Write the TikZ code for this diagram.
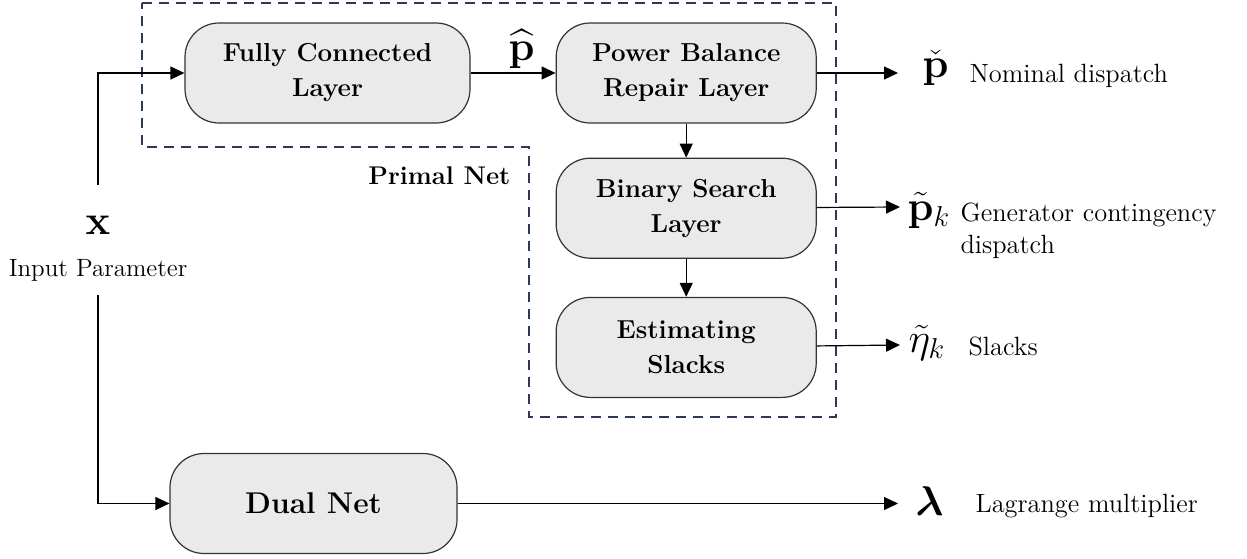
\documentclass[tikz,border=0pt]{standalone}
\usepackage{amsmath}
\usetikzlibrary{arrows.meta,positioning}
\definecolor{boxfill}{HTML}{EAEAEA}
\definecolor{netblue}{HTML}{2B3A57}

\begin{document}
\begin{tikzpicture}[->,>={Triangle[length=7pt,width=6.5pt]},semithick,
                    x=0.5pt,y=-0.5pt,node distance=17pt,
                    layer/.style={rectangle,rounded corners=17pt,draw=black!80,
                      fill=boxfill,minimum width=130pt,minimum height=50pt,
                      align=center,font=\fontsize{13}{17.5}\selectfont\bfseries},
                    sym/.style={font=\fontsize{21}{24}\selectfont,inner sep=1pt,anchor=base west},
                    desc/.style={font=\fontsize{13.2}{16}\selectfont,inner sep=0pt,
                      anchor=base west,align=left}
                    ]
  \useasboundingbox (0,0) rectangle (1247,558);
  % primal net frame
  \draw[-,netblue,line width=1pt,dash pattern=on 5pt off 3.5pt]
    (142,3) -- (836,3) -- (836,417) -- (529,417) -- (529,147) -- (142,147) -- cycle;
  \node[font=\fontsize{12.8}{15}\selectfont\bfseries,anchor=base east,inner sep=0pt] (primal) at (511,184) {Primal Net};

  \node[layer,minimum width=142.5pt] (fc) at (327.5,73) {Fully Connected\\Layer};
  \node[layer] (pbr) [right=42.5pt of fc] {Power Balance\\Repair Layer};
  \node[layer] (bs) [below=of pbr] {Binary Search\\Layer};
  \node[layer] (es) [below=19pt of bs] {Estimating\\Slacks};
  \node[layer,minimum width=143.5pt,font=\fontsize{15}{18}\selectfont\bfseries] (dual) at (313.5,503.5) {Dual Net};

  % input
  \node[font=\fontsize{21}{24}\selectfont,inner ysep=15pt] (x) at (98,225) {$\mathbf{x}$};
  \node[font=\fontsize{12.5}{15}\selectfont,inner ysep=6.5pt] (xlab) at (98,270) {Input Parameter};

  % outputs
  \coordinate (pend) at (898,73);
  \coordinate (ptend) at (900,207);
  \coordinate (etend) at (900,345);
  \coordinate (lamend) at (898,503.5);
  \node[sym] (pcheck) at (920,77) {$\check{\mathbf{p}}$};
  \node[desc] (pcheckd) at (969,82) {Nominal dispatch};
  \node[sym] (ptilde) at (905,220) {$\tilde{\mathbf{p}}_k$};
  \node[desc,anchor=north west] (ptilded) at (960,202) {Generator contingency\\dispatch};
  \node[sym] (etilde) at (906,352) {$\tilde{\eta}_k$};
  \node[desc] (etilded) at (968,355) {Slacks};
  \node[sym] (lam) at (913,515) {$\boldsymbol{\lambda}$};
  \node[desc] (lamd) at (975,512) {Lagrange multiplier};

  \draw (x.north) |- (fc.west);
  \draw (xlab.south) |- (dual.west);
  \path (fc) edge node[above,pos=0.6,inner sep=2pt,font=\fontsize{21}{24}\selectfont] (phat) {$\widehat{\mathbf{p}}$} (pbr)
        (pbr) edge (bs)
        (bs) edge (es)
        (pbr) edge (pend)
        (bs) edge (ptend)
        (es) edge (etend)
        (dual) edge (lamend);
\end{tikzpicture}
\end{document}
